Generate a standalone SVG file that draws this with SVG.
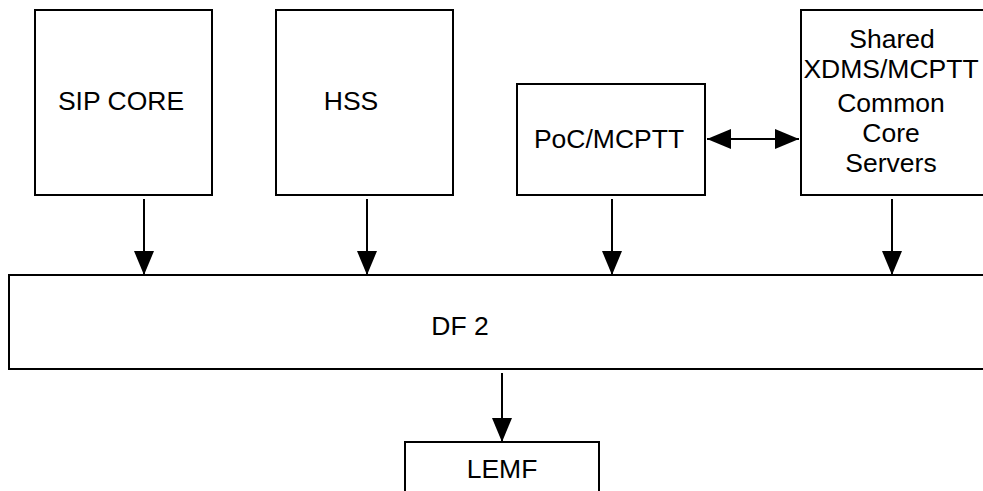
<svg xmlns="http://www.w3.org/2000/svg" width="983" height="491" viewBox="0 0 983 491">
<defs>
<style>
.box{fill:#fff;stroke:#000;stroke-width:2}
.t{font-family:"Liberation Sans",Arial,sans-serif;font-size:26.5px;fill:#000;text-anchor:middle}
.c{stroke:#000;stroke-width:2;fill:none}
</style>
<marker id="ah" markerWidth="24" markerHeight="20" refX="24" refY="10" orient="auto-start-reverse" markerUnits="userSpaceOnUse" viewBox="0 0 24 20">
<path d="M0,0 L24,10 L0,20 Z" fill="#000"/>
</marker>
</defs>
<rect width="983" height="491" fill="#fff"/>
<g id="sipcore"><rect class="box" x="35" y="10" width="177" height="185"/><text class="t" x="121" y="110">SIP CORE</text></g>
<g id="hss"><rect class="box" x="276" y="10" width="177" height="185"/><text class="t" x="351" y="110">HSS</text></g>
<g id="poc"><rect class="box" x="517" y="84" width="188" height="111"/><text class="t" x="609" y="148">PoC/MCPTT</text></g>
<g id="shared"><rect class="box" x="801" y="10" width="190" height="185"/>
<text class="t" x="892" y="48">Shared</text>
<text class="t" x="891" y="78">XDMS/MCPTT</text>
<text class="t" x="891" y="112">Common</text>
<text class="t" x="891" y="142">Core</text>
<text class="t" x="891" y="172">Servers</text></g>
<g id="df2"><rect class="box" x="9" y="275" width="990" height="94"/><text class="t" x="460" y="335">DF 2</text></g>
<g id="lemf"><rect class="box" x="405" y="442" width="194" height="60"/><text class="t" x="502" y="478">LEMF</text></g>
<g id="connectors">
<line class="c" x1="144" y1="199" x2="144" y2="275" marker-end="url(#ah)"/>
<line class="c" x1="367" y1="199" x2="367" y2="275" marker-end="url(#ah)"/>
<line class="c" x1="612" y1="199" x2="612" y2="275" marker-end="url(#ah)"/>
<line class="c" x1="892" y1="199" x2="892" y2="275" marker-end="url(#ah)"/>
<line class="c" x1="707" y1="139" x2="799" y2="139" marker-start="url(#ah)" marker-end="url(#ah)"/>
<line class="c" x1="502" y1="373" x2="502" y2="442" marker-end="url(#ah)"/>
</g>
</svg>
